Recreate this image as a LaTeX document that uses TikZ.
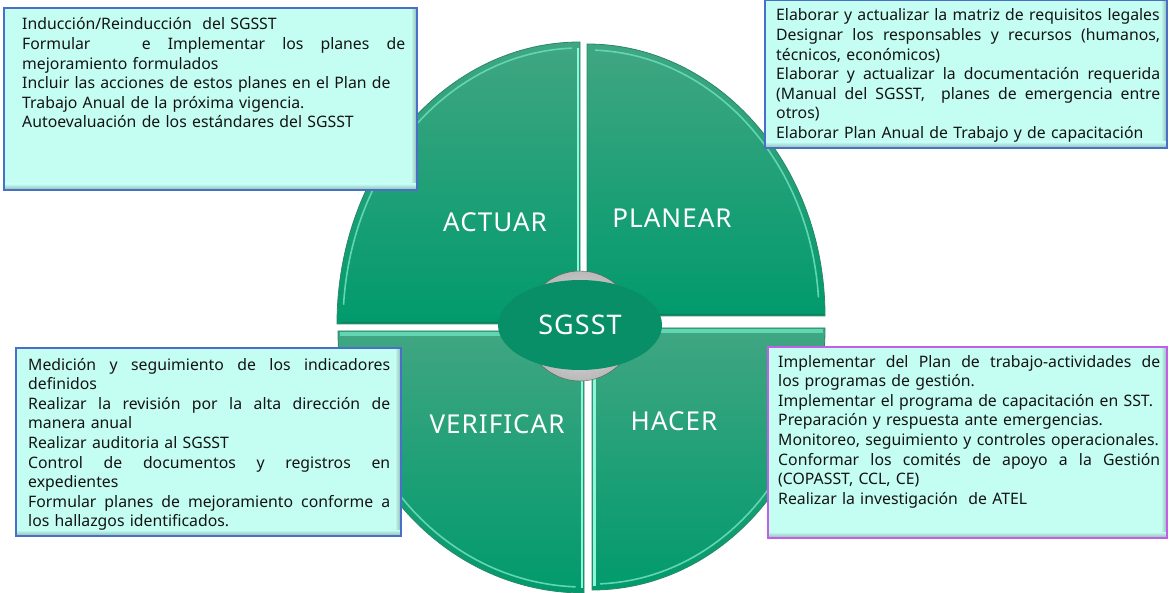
\documentclass[tikz,border=0pt]{standalone}
\usepackage{fontspec}
\setmainfont{Noto Sans}
\usetikzlibrary{shapes.geometric}
\definecolor{qgreen}{HTML}{019A6C}
\definecolor{qlight}{HTML}{40A682}
\definecolor{qedge}{HTML}{2A8766}
\definecolor{qhi}{HTML}{62D6B2}
\definecolor{qcyan}{HTML}{8EF5DA}
\definecolor{qdark}{HTML}{1E7558}
\definecolor{boxfill}{HTML}{C4FDF2}
\definecolor{boxshade}{HTML}{8DB9B0}
\definecolor{boxblue}{HTML}{4A6FC8}
\definecolor{boxpurple}{HTML}{C25FE6}
\definecolor{ellgreen}{HTML}{088F67}
\newcommand{\J}[1]{\noindent\hbox to \hsize{\spaceskip=0.3333em plus 1em\xspaceskip=0.3333em plus 1em\relax #1}}
\newcommand{\bevelbox}[5]{%
  \fill[boxfill] (#1,#2) rectangle (#3,#4);
  \shade[left color=boxfill,right color=boxshade] (#3-6,#2) rectangle (#3,#4);
  \shade[top color=boxfill,bottom color=boxshade] (#1,#4-6) rectangle (#3,#4);
  \draw[#5,line width=1.8pt] (#1,#2) rectangle (#3,#4);}
\begin{document}
\begin{tikzpicture}[x=1pt,y=-1pt,
  quad/.style={top color=qlight,bottom color=qgreen,draw=qedge,line width=0.8pt},
  hi/.style={draw=qhi,line width=1.6pt},
  qlabel/.style={text=white,inner sep=0pt,font=\fontsize{26}{30}\selectfont\addfontfeature{LetterSpace=4}},
  infotext/.style={anchor=base west,inner sep=0pt,text width=#1,align=left,
    font=\fontsize{15.8}{19.6}\selectfont,text=black!92}]
\useasboundingbox (0,0) rectangle (1169,593);
% quadrants
\path[quad] (580,324) -- (337,324) arc[start angle=180,end angle=270,x radius=243,y radius=282] -- cycle;
\path[quad] (587,316) -- (587,44) arc[start angle=270,end angle=360,x radius=238,y radius=272] -- cycle;
\path[quad] (584,331) -- (338,331) arc[start angle=180,end angle=90,x radius=246,y radius=262] -- cycle;
\path[quad] (592,328) -- (825,328) arc[start angle=0,end angle=90,x radius=233,y radius=262] -- cycle;
% bevel highlights
\draw[hi] (580,324) ++(184:237 and 276) arc[start angle=184,end angle=268,x radius=237,y radius=276];
\draw[hi] (587,316) ++(272:232 and 266) arc[start angle=272,end angle=356,x radius=232,y radius=266];
\draw[hi] (584,331) ++(176:240 and 256) arc[start angle=176,end angle=92,x radius=240,y radius=256];
\draw[hi] (592,328) ++(4:227 and 256) arc[start angle=4,end angle=88,x radius=227,y radius=256];
\draw[qcyan,line width=2.4pt] (578,48) -- (578,320);
\draw[qdark,line width=1.2pt] (341,322.5) -- (580,322.5);
\draw[qdark,line width=1.2pt] (589,314.5) -- (824,314.5);
\draw[qhi,line width=4pt] (340,334) -- (582,334);
\draw[qhi,line width=4pt] (594,331) -- (823,331);
\draw[qcyan,line width=2.4pt] (594.5,333) -- (594.5,586);
\draw[qcyan,line width=2pt] (582,336) -- (582,588);
% centre
\shade[inner color=gray!12,outer color=gray!55,draw=gray!70!black] (580,326) circle[radius=55];
\node[ellipse,fill=ellgreen,minimum width=164pt,minimum height=90pt,inner sep=0pt,
  text=white,font=\fontsize{27}{30}\selectfont\addfontfeature{LetterSpace=4}] (core) at (580,325) {SGSST};
% labels
\node[qlabel] (act) at (495,222) {ACTUAR};
\node[qlabel] (pla) at (672,218) {PLANEAR};
\node[qlabel] (ver) at (497,424) {VERIFICAR};
\node[qlabel] (hac) at (674,421) {HACER};
% boxes
\bevelbox{4}{8}{417}{190}{boxblue}
\bevelbox{765}{0}{1167}{148}{boxblue}
\bevelbox{16}{348}{401}{536}{boxblue}
\bevelbox{768}{347}{1167}{538}{boxpurple}
\node[infotext=383pt] (tA) at (22,30) {%
Inducción/Reinducción\ \ del SGSST\\
\J{Formular\ \ \ e Implementar los planes de}\\
mejoramiento formulados\\
Incluir las acciones de estos planes en el Plan de\\
Trabajo Anual de la próxima vigencia.\\
Autoevaluación de los estándares del SGSST};
\node[infotext=384pt] (tP) at (776,21) {%
Elaborar y actualizar la matriz de requisitos legales\\
\J{Designar los responsables y recursos (humanos,}\\
técnicos, económicos)\\
\J{Elaborar y actualizar la documentación requerida}\\
\J{(Manual del SGSST,\ \ planes de emergencia entre}\\
otros)\\
Elaborar Plan Anual de Trabajo y de capacitación};
\node[infotext=362pt] (tV) at (28,370) {%
\J{Medición y seguimiento de los indicadores}\\
definidos\\
\J{Realizar la revisión por la alta dirección de}\\
manera anual\\
Realizar auditoria al SGSST\\
\J{Control de documentos y registros en}\\
expedientes\\
\J{Formular planes de mejoramiento conforme a}\\
los hallazgos identificados.};
\node[infotext=382pt] (tH) at (778,367) {%
\J{Implementar del Plan de trabajo-actividades de}\\
los programas de gestión.\\
Implementar el programa de capacitación en SST.\\
Preparación y respuesta ante emergencias.\\
Monitoreo, seguimiento y controles operacionales.\\
\J{Conformar los comités de apoyo a la Gestión}\\
(COPASST, CCL, CE)\\
Realizar la investigación\ \ de ATEL};
\end{tikzpicture}
\end{document}
